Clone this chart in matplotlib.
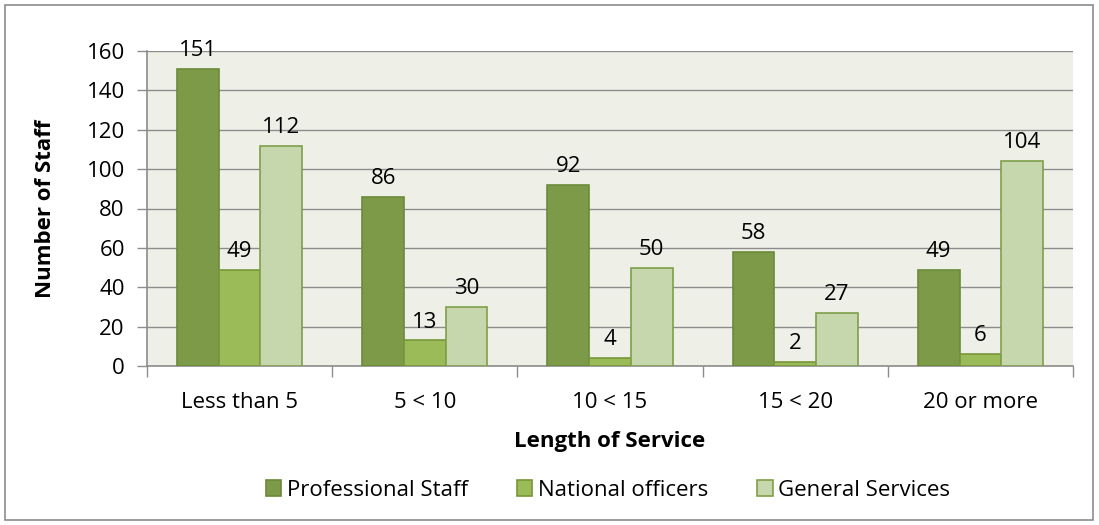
import matplotlib
matplotlib.use("Agg")
import matplotlib.pyplot as plt
import numpy as np
from matplotlib.patches import Rectangle

categories = ["Less than 5", "5 < 10", "10 < 15", "15 < 20", "20 or more"]
series_names = ["Professional Staff", "National officers", "General Services"]
professional = [151, 86, 92, 58, 49]
national = [49, 13, 4, 2, 6]
general = [112, 30, 50, 27, 104]
yticks = [0, 20, 40, 60, 80, 100, 120, 140, 160]

plt.rcParams['font.family'] = ['Open Sans', 'DejaVu Sans']
FS = 16

fill_colors = ["#7C9A47", "#9BBB59", "#C7D7AD"]
edge_colors = ["#6A8A3A", "#76963A", "#7F9F4A"]

fig = plt.figure(figsize=(10.99, 5.25), dpi=100)
ax = fig.add_axes([147/1099, 1-366/525, (1073-147)/1099, (366-51)/525])
ax.set_facecolor("#EEF0E7")

x = np.arange(len(categories))
w = 0.225
for i, (vals, name) in enumerate(zip([professional, national, general], series_names)):
    pos = x + (i - 1) * w
    bars = ax.bar(pos, vals, w, color=fill_colors[i], edgecolor=edge_colors[i],
                  linewidth=1.2, label=name, zorder=3)
    for b, v in zip(bars, vals):
        ax.text(b.get_x() + b.get_width()/2, v + 4.0, str(v), ha="center", va="bottom",
                fontsize=FS, color="black", zorder=4)

ax.set_xlim(-0.5, len(categories) - 0.5)
ax.set_ylim(0, 160)
ax.set_yticks(yticks)
ax.yaxis.grid(True, color="#8C8C8C", linewidth=1.0, zorder=0)
ax.set_axisbelow(True)
ax.set_xticks(np.arange(-0.5, len(categories), 1.0), minor=False)
ax.set_xticklabels([])
ax.set_xticks(x, minor=True)
ax.set_xticklabels(categories, minor=True, fontsize=FS)
ax.tick_params(axis="x", which="minor", length=0, pad=19)
ax.tick_params(axis="x", which="major", length=8, color="#8C8C8C", width=1)
ax.tick_params(axis="y", length=7, color="#8C8C8C", width=1, labelsize=FS, pad=9)
for s in ["top", "right"]:
    ax.spines[s].set_visible(False)
for s in ["left", "bottom"]:
    ax.spines[s].set_color("#8C8C8C")
    ax.spines[s].set_linewidth(1.2)

ax.set_ylabel("Number of Staff", fontsize=FS, fontweight="bold", labelpad=22)
ax.set_xlabel("Length of Service", fontsize=FS, fontweight="bold", labelpad=13)

leg = fig.legend(loc="center", bbox_to_anchor=(608/1099, 1-490/525), ncol=3, frameon=False,
                 fontsize=FS, handlelength=0.7, handleheight=0.7, handletextpad=0.25,
                 columnspacing=2.2)

fig.patches.append(Rectangle((5/1099, 5/525), 1088/1099, 515/525, transform=fig.transFigure,
                             fill=False, edgecolor="#8C8C8C", linewidth=1.2))

fig.savefig("out.png", dpi=100)
